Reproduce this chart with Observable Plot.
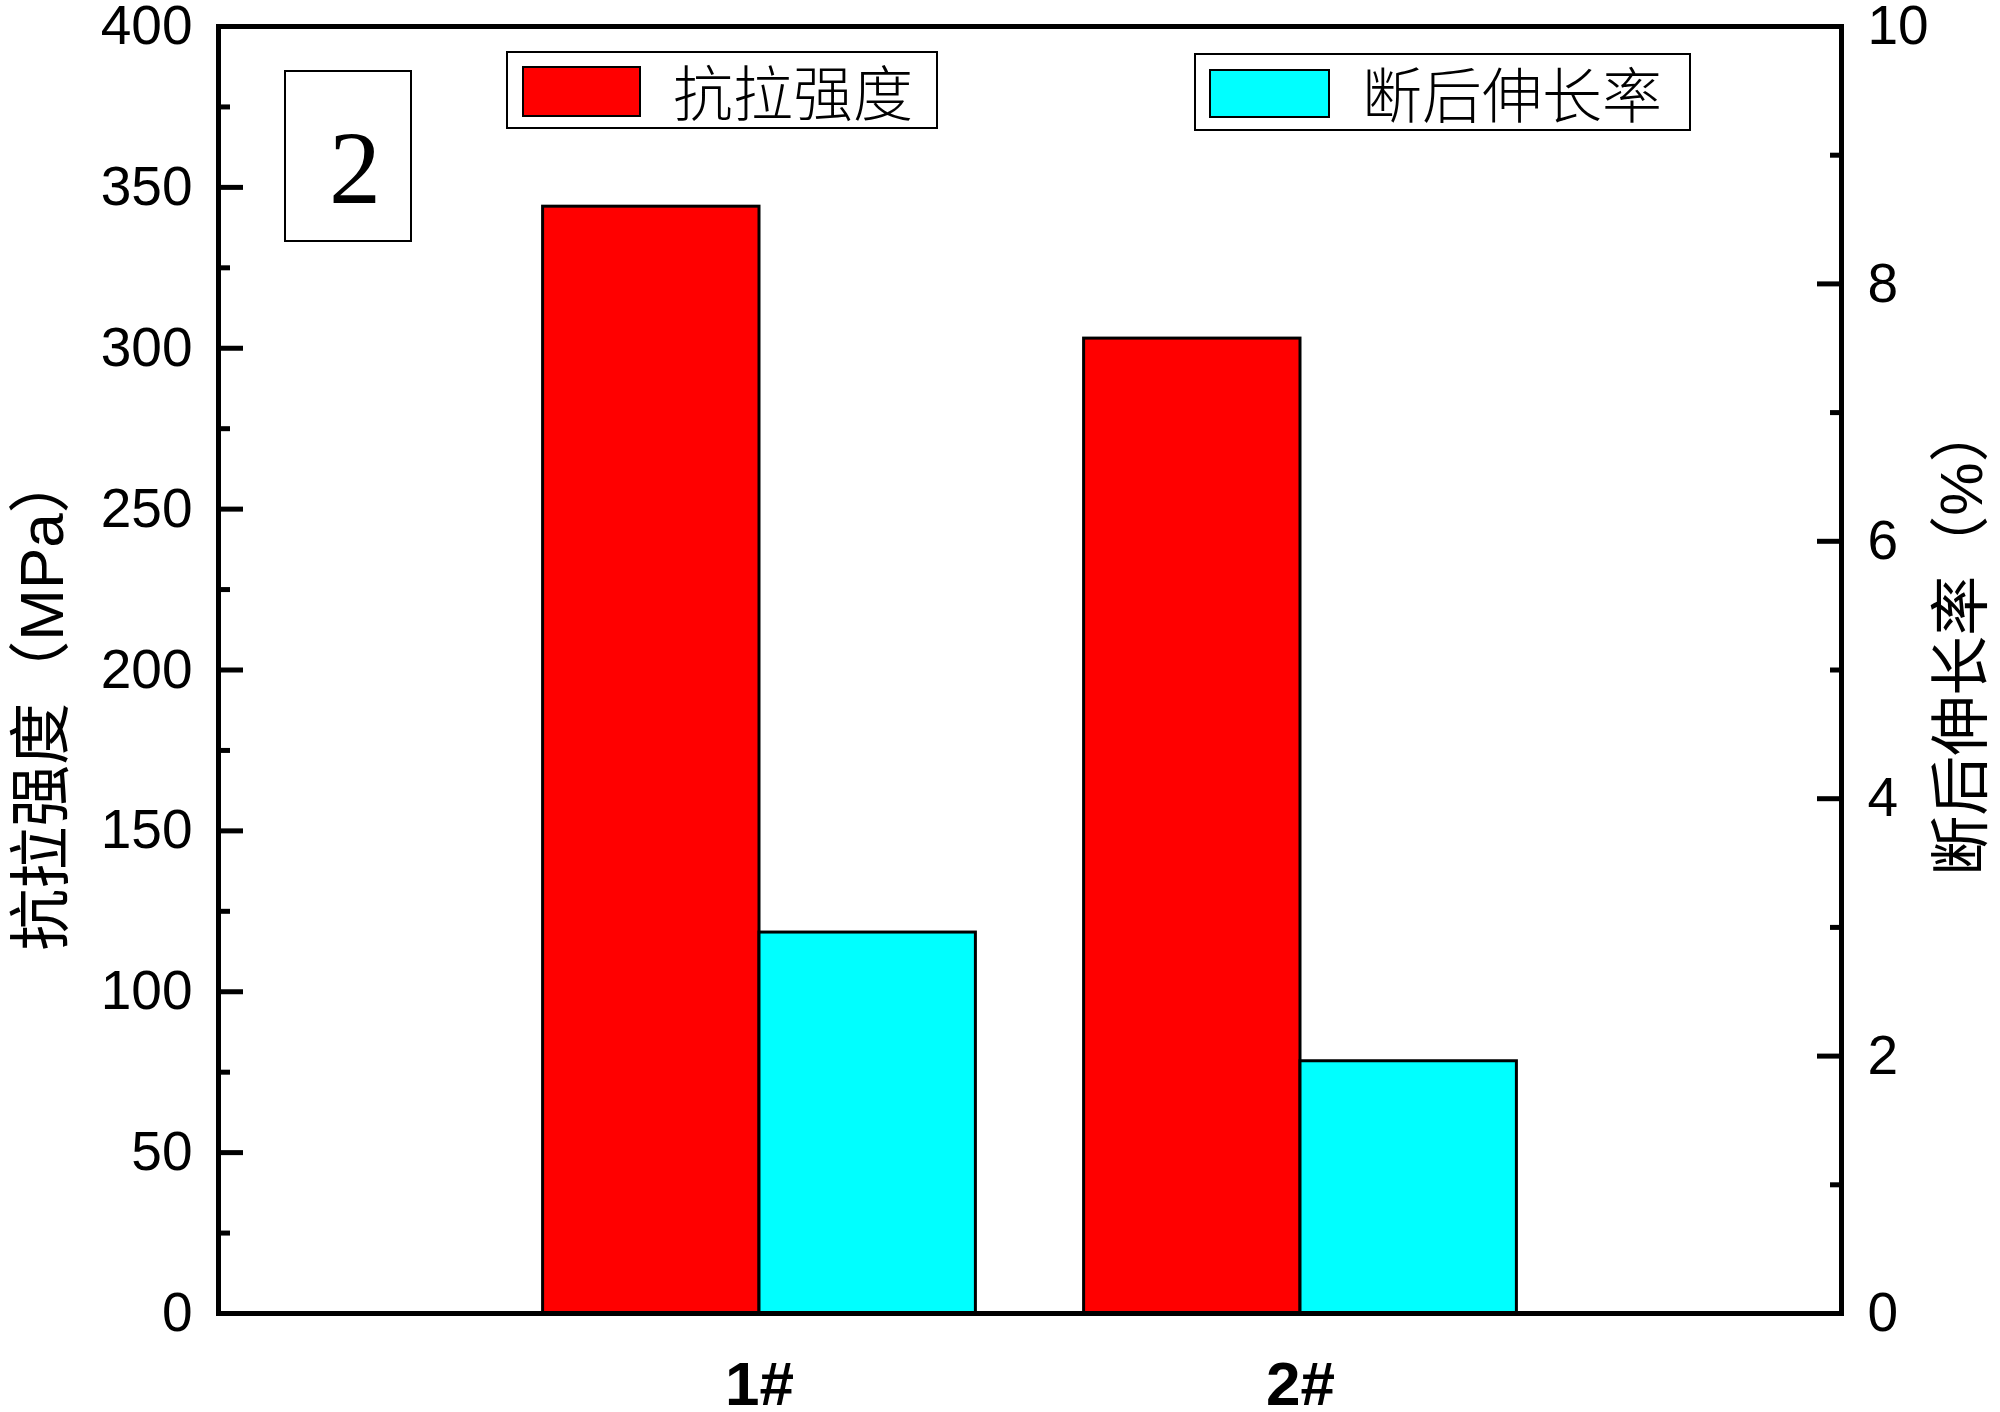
<!DOCTYPE html>
<html>
<head>
<meta charset="utf-8">
<script src="https://cdn.jsdelivr.net/npm/d3@7"></script>
<script src="https://cdn.jsdelivr.net/npm/@observablehq/plot@0.6"></script>
<style>
  html, body { margin: 0; padding: 0; background: #fff; }
  #wrap { position: relative; width: 2000px; height: 1412px; overflow: hidden; }
  .box { position: absolute; border: 2px solid #000; background: #fff; box-sizing: border-box; }
  .sw { position: absolute; border: 2px solid #000; box-sizing: border-box; }
  .lt { position: absolute; font-family: "Noto Sans CJK SC", sans-serif; font-size: 60px; line-height: 1; white-space: nowrap; font-weight: 300; }
</style>
</head>
<body>
<div id="wrap"></div>
<script>
// ---- data ----
const categories = ["1#", "2#"];
const tensileStrength = [344, 303];      // MPa (left axis)
const elongation = [2.96, 1.96];         // % (right axis)
const leftTicks = [0, 50, 100, 150, 200, 250, 300, 350, 400];
const leftMinorTicks = [25, 75, 125, 175, 225, 275, 325, 375];
const rightTicks = [0, 2, 4, 6, 8, 10];
const rightMinorTicks = [1, 3, 5, 7, 9];
const seriesNames = ["抗拉强度", "断后伸长率"];
const seriesColors = ["#ff0000", "#00ffff"];
const leftTitle = "抗拉强度（MPa）";
const rightTitle = "断后伸长率（%）";
const panelLabel = "2";

const k = 40; // right-axis (0-10 %) mapped onto left scale (0-400 MPa)
const rows = categories.map((c, i) => ({c, pos: i + 1, t: tensileStrength[i], e: elongation[i]}));

const font = "'Liberation Sans', Arial, 'Noto Sans CJK SC', sans-serif";

const chart = Plot.plot({
  width: 2000,
  height: 1412,
  marginLeft: 218,
  marginRight: 159,
  marginTop: 26,
  marginBottom: 99,
  style: {fontFamily: font, background: "white", color: "black"},
  x: {domain: [0, 3], axis: null},
  y: {domain: [0, 400], axis: null},
  marks: [
    Plot.rectY(rows, {x1: d => d.pos - 0.4, x2: d => d.pos, y: "t", fill: seriesColors[0], stroke: "black", strokeWidth: 3}),
    Plot.rectY(rows, {x1: d => d.pos, x2: d => d.pos + 0.4, y: d => d.e * k, fill: seriesColors[1], stroke: "black", strokeWidth: 3}),
    Plot.frame({stroke: "black", strokeWidth: 5}),
    // left axis ticks (inward)
    Plot.axisY({anchor: "left", ticks: leftTicks, tickSize: -25, strokeWidth: 5, fill: "none", label: null}),
    Plot.axisY({anchor: "left", ticks: leftMinorTicks, tickSize: -12, strokeWidth: 5, fill: "none", label: null}),
    Plot.axisY({anchor: "left", ticks: leftTicks, tickSize: 0, tickPadding: 26, fontSize: 55, label: null}),
    // right axis
    Plot.axisY({anchor: "right", ticks: rightTicks.map(v => v * k), tickSize: -25, strokeWidth: 5, fill: "none", label: null}),
    Plot.axisY({anchor: "right", ticks: rightMinorTicks.map(v => v * k), tickSize: -12, strokeWidth: 5, fill: "none", label: null}),
    Plot.axisY({anchor: "right", ticks: rightTicks.map(v => v * k), tickFormat: v => String(v / k), tickSize: 0, tickPadding: 26, fontSize: 55, label: null}),
    // x axis labels
    Plot.axisX({ticks: rows.map(d => d.pos), tickFormat: v => categories[v - 1], tickSize: 0, tickPadding: 47, fontSize: 62, fontWeight: "bold", label: null}),
    // axis titles
    Plot.text([leftTitle], {frameAnchor: "left", textAnchor: "middle", rotate: -90, dx: -175, dy: 31, fontSize: 62, fill: "black"}),
    Plot.text([rightTitle], {frameAnchor: "right", textAnchor: "middle", rotate: -90, dx: 121, dy: -31, fontSize: 60, fill: "black"})
  ]
});

const wrap = document.getElementById("wrap");
wrap.appendChild(chart);

function addDiv(cls, css, text) {
  const d = document.createElement("div");
  d.className = cls;
  Object.assign(d.style, css);
  if (text != null) d.textContent = text;
  wrap.appendChild(d);
  return d;
}

// panel label box
addDiv("box", {left: "284px", top: "70px", width: "128px", height: "172px"});
addDiv("lt", {left: "291px", top: "82px", width: "128px", height: "172px", fontFamily: "'Liberation Serif', 'Times New Roman', serif", fontSize: "104px", fontWeight: "normal", display: "flex", alignItems: "center", justifyContent: "center"}, panelLabel);

// legend 1
addDiv("box", {left: "506px", top: "51px", width: "432px", height: "78px"});
addDiv("sw", {left: "522px", top: "66px", width: "119px", height: "51px", background: seriesColors[0]});
addDiv("lt", {left: "673px", top: "60px"}, seriesNames[0]);
// legend 2
addDiv("box", {left: "1194px", top: "53px", width: "497px", height: "78px"});
addDiv("sw", {left: "1209px", top: "69px", width: "121px", height: "49px", background: seriesColors[1]});
addDiv("lt", {left: "1362px", top: "62px"}, seriesNames[1]);
</script>
</body>
</html>
